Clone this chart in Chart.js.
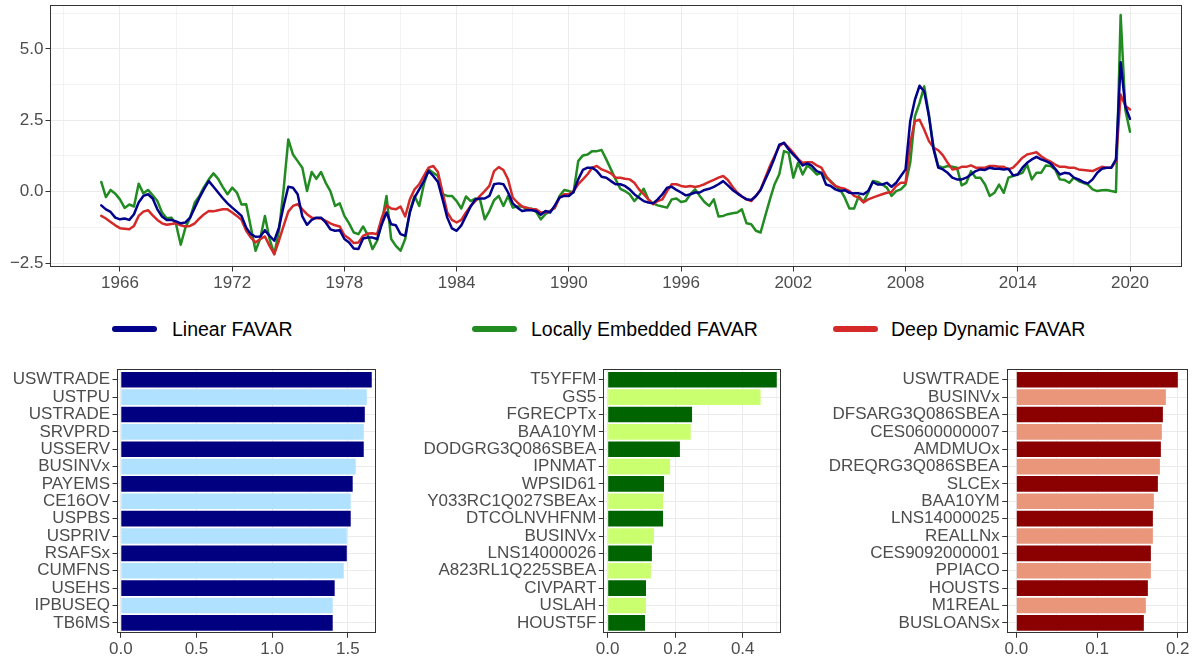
<!DOCTYPE html>
<html>
<head>
<meta charset="utf-8">
<title>FAVAR factors and variable importance</title>
<script src="https://cdn.jsdelivr.net/npm/chart.js@4.4.1/dist/chart.umd.min.js"></script>
<style>
  html, body { margin: 0; padding: 0; background: #fff; }
  #wrap { position: relative; width: 1197px; height: 659px; overflow: hidden;
          font-family: 'Liberation Sans', Arial, sans-serif; }
  canvas { position: absolute; }
  .key { position: absolute; top: 326px; width: 45px; height: 6px; border-radius: 3px; }
  .lab { position: absolute; top: 317px; font-size: 19.5px; line-height: 24px; color: #000; white-space: nowrap; }
</style>
</head>
<body>
<div id="wrap">
  <canvas id="factors" width="1197" height="325" style="left:0;top:-25px"></canvas>

  <div class="key" id="keyLin" style="left:112px"></div>
  <div class="lab" style="left:172px">Linear FAVAR</div>
  <div class="key" id="keyLe" style="left:472px"></div>
  <div class="lab" style="left:531px">Locally Embedded FAVAR</div>
  <div class="key" id="keyDd" style="left:833px"></div>
  <div class="lab" style="left:891px">Deep Dynamic FAVAR</div>

  <canvas id="impLin" width="390" height="319" style="left:0;top:340px"></canvas>
  <canvas id="impLe" width="397" height="319" style="left:400px;top:340px"></canvas>
  <canvas id="impDd" width="397" height="319" style="left:800px;top:340px"></canvas>
</div>

<script>
// quarterly factor estimates, 1965Q1 - 2020Q1
const startYear = 1965;

const linearFavar = [
  -0.48,-0.62,-0.71,-0.91,-0.97,-0.94,-0.99,-0.79,-0.38,-0.15,
  -0.09,-0.24,-0.62,-0.87,-0.99,-0.99,-1.04,-1.11,-1.08,-0.91,
  -0.56,-0.21,0.10,0.37,0.17,-0.03,-0.23,-0.41,-0.56,-0.70,
  -0.85,-1.26,-1.49,-1.58,-1.57,-1.35,-1.55,-1.72,-1.26,-0.50,
  0.17,0.14,-0.09,-0.87,-1.16,
  -0.99,-0.91,-0.91,-1.08,-1.32,-1.37,-1.35,-1.66,-1.78,-1.99,
  -2.01,-1.64,-1.61,-1.61,-1.66,-1.14,-0.73,-1.14,-1.18,-1.49,
  -1.55,-0.73,-0.21,0.08,0.37,0.72,0.55,0.34,-0.27,-0.91,
  -1.29,-1.37,-1.18,-0.85,-0.52,-0.27,-0.24,-0.24,-0.15,0.26,
  0.29,0.26,-0.03,-0.41,-0.56,-0.68,-0.65,-0.65,-0.68,-0.81,
  -0.68,
  -0.73,-0.48,-0.21,-0.15,-0.15,-0.01,0.43,0.76,0.84,0.84,
  0.72,0.52,0.49,0.37,0.26,0.26,0.20,0.08,-0.09,-0.21,
  -0.33,-0.38,-0.41,-0.27,-0.09,0.14,0.17,0.06,-0.03,-0.13,
  -0.09,-0.03,-0.03,0.06,0.10,0.17,0.26,0.37,0.22,0.06,
  -0.06,-0.17,-0.27,-0.29,-0.15,0.06,0.43,0.78,1.19,1.65,
  1.71,1.48,
  1.30,1.13,0.92,0.99,0.90,0.72,0.66,0.25,0.20,0.08,
  0.02,0.05,-0.04,-0.06,-0.06,-0.09,0.02,0.34,0.25,0.25,
  0.31,0.17,0.31,0.55,0.78,2.47,3.22,3.71,3.51,2.64,
  1.48,0.84,0.78,0.66,0.49,0.43,0.43,0.49,0.60,0.72,
  0.78,0.76,0.84,0.80,0.80,0.78,0.80,0.57,0.60,0.84,
  1.01,
  1.13,1.22,1.13,1.07,0.99,0.80,0.60,0.66,0.64,0.49,
  0.43,0.34,0.29,0.43,0.66,0.80,0.84,0.84,1.13,4.53,
  2.99,2.55
];

const locallyEmbedded = [
  0.34,-0.19,0.06,-0.07,-0.27,-0.57,-0.45,-0.52,0.28,-0.06,
  0.06,-0.13,-0.33,-0.73,-0.93,-0.91,-1.14,-1.86,-1.26,-0.91,
  -0.38,-0.15,0.17,0.43,0.64,0.45,0.16,-0.09,0.14,-0.03,
  -0.45,-0.44,-1.26,-2.07,-1.64,-0.85,-1.66,-2.19,-1.37,0.08,
  1.83,1.30,1.07,0.84,0.02,
  0.69,0.45,0.69,0.31,0.02,-0.50,-0.41,-0.85,-1.11,-1.43,
  -1.49,-1.22,-1.52,-2.01,-1.72,-1.08,-0.15,-1.66,-1.90,-2.07,
  -1.66,-0.68,-0.15,-0.50,0.26,0.78,0.66,0.55,-0.09,-0.15,
  -0.15,-0.33,-0.59,-0.17,-0.33,-0.24,-0.27,-0.97,-0.68,-0.30,
  -0.15,-0.50,-0.15,-0.56,-0.52,-0.52,-0.62,-0.59,-0.71,-0.97,
  -0.79,
  -0.68,-0.56,-0.15,0.06,0.02,-0.03,1.07,1.27,1.30,1.42,
  1.42,1.46,1.13,0.78,0.43,0.10,0.02,-0.09,-0.33,-0.15,
  0.10,-0.27,-0.41,-0.48,-0.52,-0.56,-0.27,-0.24,-0.36,-0.33,
  -0.09,0.08,-0.15,-0.36,-0.50,-0.27,-0.87,-0.85,-0.79,-0.76,
  -0.73,-0.62,-1.11,-1.14,-1.37,-1.43,-0.85,-0.27,0.26,0.61,
  1.42,1.36,
  0.49,1.01,0.60,0.92,0.78,0.60,0.66,0.49,0.37,0.20,
  0.08,-0.21,-0.59,-0.59,-0.15,-0.36,-0.04,0.37,0.34,0.25,
  0.14,-0.15,0.02,0.08,0.25,1.01,2.64,3.11,3.69,2.70,
  1.54,0.90,0.84,0.90,0.87,0.84,0.22,0.31,0.72,0.49,
  0.49,0.25,-0.15,-0.04,0.25,-0.04,0.49,0.55,0.60,0.66,
  0.95,
  0.43,0.66,0.66,0.92,0.90,0.78,0.43,0.41,0.31,0.49,
  0.37,0.31,0.25,0.08,0.02,0.05,0.06,0.02,-0.01,6.19,
  2.87,2.10
];

const deepDynamic = [
  -0.85,-0.94,-1.06,-1.18,-1.28,-1.30,-1.32,-1.20,-0.85,-0.70,
  -0.65,-0.83,-0.99,-1.11,-1.16,-1.13,-1.11,-1.18,-1.22,-1.20,
  -1.11,-0.94,-0.79,-0.68,-0.69,-0.65,-0.62,-0.62,-0.73,-0.85,
  -0.99,-1.37,-1.61,-1.78,-1.66,-1.57,-1.90,-2.19,-1.72,-1.20,
  -0.70,-0.50,-0.44,-0.62,-0.79,
  -0.91,-0.93,-0.94,-1.02,-1.11,-1.18,-1.22,-1.53,-1.64,-1.80,
  -1.78,-1.55,-1.47,-1.46,-1.49,-0.91,-0.48,-0.59,-0.62,-0.52,
  -0.87,-0.27,0.08,0.26,0.55,0.84,0.90,0.69,-0.03,-0.73,
  -0.99,-1.08,-0.99,-0.73,-0.50,-0.33,-0.15,0.02,0.20,0.72,
  0.86,0.76,0.43,-0.21,-0.38,-0.52,-0.56,-0.62,-0.62,-0.73,
  -0.73,
  -0.68,-0.56,-0.21,-0.09,-0.09,0.02,0.26,0.43,0.61,0.84,
  0.90,0.78,0.72,0.64,0.49,0.49,0.45,0.43,0.31,0.08,
  -0.09,-0.27,-0.44,-0.33,-0.27,0.02,0.26,0.26,0.20,0.17,
  0.20,0.16,0.20,0.26,0.34,0.41,0.49,0.55,0.41,0.17,
  -0.03,-0.17,-0.27,-0.33,-0.15,0.08,0.49,0.90,1.25,1.59,
  1.71,1.54,
  1.36,1.15,1.01,1.03,1.03,0.92,0.84,0.55,0.34,0.20,
  0.14,0.10,0.02,-0.15,-0.21,-0.38,-0.27,-0.21,-0.15,-0.09,
  -0.04,-0.01,0.20,0.31,0.31,1.71,2.47,2.52,2.17,1.77,
  1.54,1.45,1.27,1.01,0.78,0.80,0.87,0.87,0.92,0.84,
  0.84,0.84,0.90,0.90,0.87,0.87,0.78,0.84,1.01,1.19,
  1.30,
  1.34,1.38,1.24,1.13,1.05,0.95,0.87,0.87,0.84,0.84,
  0.78,0.76,0.74,0.72,0.80,0.87,0.84,0.84,1.07,3.40,
  3.01,2.88
];

const yearMajor = [1966, 1972, 1978, 1984, 1990, 1996, 2002, 2008, 2014, 2020];
const yearMinor = [1963, 1969, 1975, 1981, 1987, 1993, 1999, 2005, 2011, 2017];
const factorMajor = [-2.5, 0, 2.5, 5];
const factorMinor = [-1.25, 1.25, 3.75, 6.25];

// top 15 variables per model
const linNames = ['USWTRADE','USTPU','USTRADE','SRVPRD','USSERV','BUSINVx','PAYEMS','CE16OV',
                  'USPBS','USPRIV','RSAFSx','CUMFNS','USEHS','IPBUSEQ','TB6MS'];
const linImportance = [1.658,1.625,1.612,1.605,1.605,1.552,1.532,1.519,1.519,1.493,1.493,1.473,1.413,1.400,1.400];

const leNames = ['T5YFFM','GS5','FGRECPTx','BAA10YM','DODGRG3Q086SBEA','IPNMAT','WPSID61',
                 'Y033RC1Q027SBEAx','DTCOLNVHFNM','BUSINVx','LNS14000026','A823RL1Q225SBEA',
                 'CIVPART','USLAH','HOUST5F'];
const leImportance = [0.501,0.453,0.250,0.246,0.214,0.185,0.167,0.164,0.164,0.137,0.131,0.128,0.1135,0.1135,0.1105];

const ddNames = ['USWTRADE','BUSINVx','DFSARG3Q086SBEA','CES0600000007','AMDMUOx','DREQRG3Q086SBEA',
                 'SLCEx','BAA10YM','LNS14000025','REALLNx','CES9092000001','PPIACO','HOUSTS',
                 'M1REAL','BUSLOANSx'];
const ddImportance = [0.2001,0.1853,0.1816,0.1803,0.1791,0.1779,0.1754,0.1704,0.1692,0.1692,0.1667,0.1667,0.1630,0.1605,0.1580];

const colLin = '#00008B', colLe = '#228B22', colDd = '#D42A2A';

Chart.defaults.font.family = "'Liberation Sans', Arial, sans-serif";
Chart.defaults.font.size = 17;
Chart.defaults.color = '#4D4D4D';

document.getElementById('keyLin').style.background = colLin;
document.getElementById('keyLe').style.background = colLe;
document.getElementById('keyDd').style.background = colDd;

// panel frame like theme_bw
const panelBorder = {
  id: 'panelBorder',
  afterDraw(chart) {
    const { ctx, chartArea: a } = chart;
    const l = Math.round(a.left) + 0.5, t = Math.round(a.top) + 0.5;
    const r = Math.round(a.right) - 0.5, b = Math.round(a.bottom) - 0.5;
    ctx.save();
    ctx.strokeStyle = '#333333';
    ctx.lineWidth = 1;
    ctx.strokeRect(l, t, r - l, b - t);
    ctx.restore();
  }
};

function gridFor(majors) {
  const isMajor = c => c.tick && majors.includes(c.tick.value);
  return {
    offset: false,
    color: '#EBEBEB',
    lineWidth: c => isMajor(c) ? 1 : 0.6,
    tickColor: c => isMajor(c) ? '#333333' : 'rgba(0,0,0,0)',
    tickWidth: 1,
    tickLength: 4.5
  };
}

const setTicks = list => scale => { scale.ticks = list.map(v => ({ value: v })); };
const fmt = v => (v < 0 ? '\u2212' : '') + Math.abs(v).toFixed(1);
const asPoints = series => series.map((v, i) => ({ x: startYear + i / 4, y: v }));

new Chart(document.getElementById('factors'), {
  type: 'line',
  data: {
    datasets: [
      { label: 'Linear FAVAR', data: asPoints(linearFavar), borderColor: colLin },
      { label: 'Deep Dynamic FAVAR', data: asPoints(deepDynamic), borderColor: colDd },
      { label: 'Locally Embedded FAVAR', data: asPoints(locallyEmbedded), borderColor: colLe }
    ]
  },
  options: {
    responsive: false,
    animation: false,
    layout: { padding: { top: 30, right: 15, left: 0, bottom: 0 } },
    elements: {
      point: { radius: 0 },
      line: { borderWidth: 2.5, tension: 0, borderJoinStyle: 'round', borderCapStyle: 'round' }
    },
    plugins: { legend: { display: false }, tooltip: { enabled: false } },
    scales: {
      x: {
        type: 'linear', min: 1962.26, max: 2022.78, offset: false,
        afterBuildTicks: setTicks(yearMajor.concat(yearMinor).sort((a, b) => a - b)),
        afterFit: s => { s.height = 33; },
        ticks: { autoSkip: false, maxRotation: 0, padding: 2,
                 callback: v => yearMajor.includes(v) ? String(v) : '' },
        grid: gridFor(yearMajor),
        border: { display: false }
      },
      y: {
        type: 'linear', min: -2.64, max: 6.54, offset: false,
        afterBuildTicks: setTicks(factorMajor.concat(factorMinor).sort((a, b) => a - b)),
        afterFit: s => { s.width = 50; },
        ticks: { autoSkip: false, padding: 2,
                 callback: v => factorMajor.includes(v) ? fmt(v) : '' },
        grid: gridFor(factorMajor),
        border: { display: false }
      }
    }
  },
  plugins: [panelBorder]
});

function importanceChart(id, names, values, dark, light, xMin, xMax, majors, minors, axisWidth, padRight) {
  const rows = names.map((_, i) => i);
  return new Chart(document.getElementById(id), {
    type: 'bar',
    data: {
      datasets: [{
        data: values.map((v, i) => ({ x: v, y: i })),
        backgroundColor: values.map((_, i) => i % 2 ? light : dark),
        borderWidth: 0,
        barPercentage: 0.9,
        categoryPercentage: 1
      }]
    },
    options: {
      indexAxis: 'y',
      responsive: false,
      animation: false,
      layout: { padding: { top: 29.3, right: padRight, left: 0, bottom: 0 } },
      plugins: { legend: { display: false }, tooltip: { enabled: false } },
      scales: {
        x: {
          type: 'linear', min: xMin, max: xMax, offset: false,
          afterBuildTicks: setTicks(majors.concat(minors).sort((a, b) => a - b)),
          afterFit: s => { s.height = 25.7; },
          ticks: { autoSkip: false, maxRotation: 0, padding: 1,
                   callback: v => majors.includes(v) ? v.toFixed(1) : '' },
          grid: gridFor(majors),
          border: { display: false }
        },
        y: {
          type: 'linear', reverse: true, min: -0.6, max: 14.6, offset: false,
          afterBuildTicks: setTicks(rows),
          afterFit: s => { s.width = axisWidth; },
          ticks: { autoSkip: false, padding: 2.5, callback: v => names[v] },
          grid: gridFor(rows),
          border: { display: false }
        }
      }
    },
    plugins: [panelBorder]
  });
}

importanceChart('impLin', linNames, linImportance, '#000080', '#B0E2FF',
  -0.025, 1.686, [0, 0.5, 1, 1.5], [0.25, 0.75, 1.25], 117, 14);
importanceChart('impLe', leNames, leImportance, '#006400', '#CAFF70',
  -0.013, 0.5135, [0, 0.2, 0.4], [0.1, 0.3, 0.5], 203.3, 16);
importanceChart('impDd', ddNames, ddImportance, '#8B0000', '#E9967A',
  -0.0119, 0.2121, [0, 0.1, 0.2], [0.05, 0.15], 206.7, 9.5);
</script>
</body>
</html>
